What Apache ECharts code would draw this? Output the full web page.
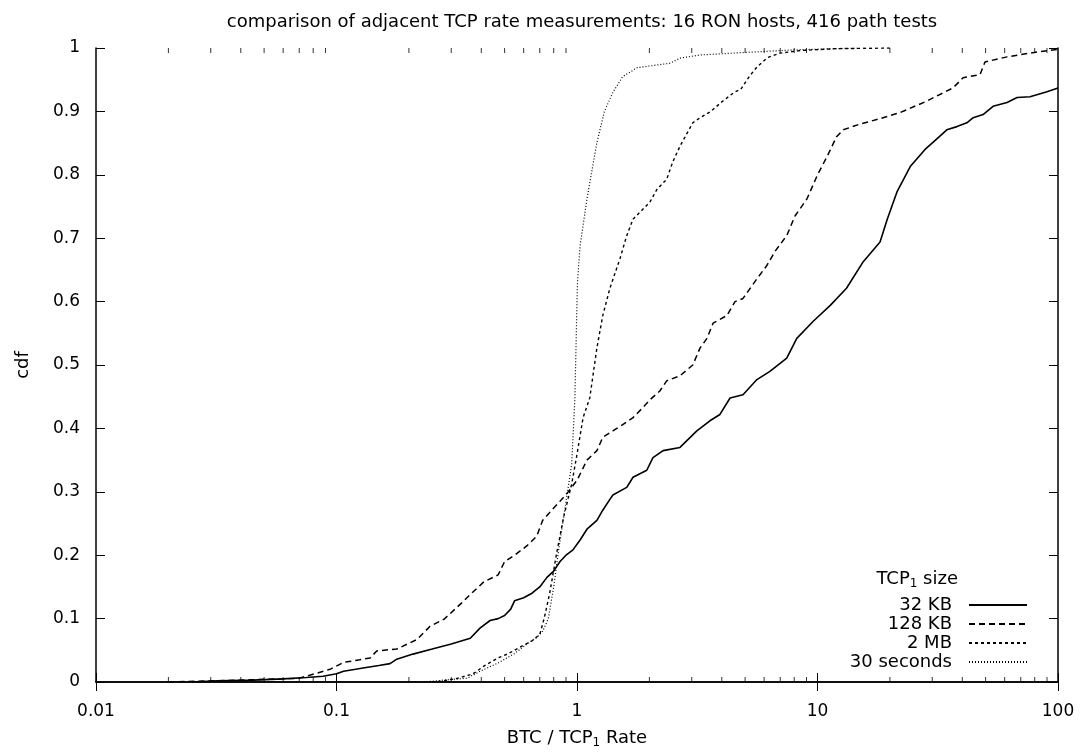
<!DOCTYPE html>
<html><head><meta charset="utf-8">
<script src="https://cdn.jsdelivr.net/npm/echarts@6/dist/echarts.min.js"></script>
<style>html,body{margin:0;padding:0;background:#fff}#c{width:1081px;height:754px}</style>
</head><body><div id="c"></div>
<script>
const titleText = 'comparison of adjacent TCP rate measurements: 16 RON hosts, 416 path tests';
const seriesNames = ['32 KB', '128 KB', '2 MB', '30 seconds'];
const xTickLabels = ['0.01', '0.1', '1', '10', '100'];
const minorTickValues = [0.02,0.03,0.04,0.05,0.06,0.07,0.08,0.09,
  0.2,0.3,0.4,0.5,0.6,0.7,0.8,0.9,
  2,3,4,5,6,7,8,9,
  20,30,40,50,60,70,80,90];

const kb32 = [[0.025,0],[0.032,0.002],[0.045,0.003],[0.06,0.005],[0.075,0.007],[0.088,0.009],[0.1,0.013],[0.107,0.017],[0.12,0.02],[0.129,0.022],[0.15,0.026],[0.167,0.029],[0.178,0.036],[0.208,0.044],[0.25,0.052],[0.3,0.06],[0.36,0.069],[0.395,0.085],[0.435,0.097],[0.47,0.1],[0.5,0.105],[0.53,0.115],[0.55,0.128],[0.6,0.133],[0.65,0.14],[0.7,0.15],[0.75,0.165],[0.8,0.175],[0.85,0.19],[0.9,0.2],[0.96,0.208],[1.03,0.224],[1.1,0.241],[1.21,0.255],[1.28,0.271],[1.37,0.288],[1.41,0.295],[1.61,0.307],[1.71,0.323],[1.95,0.334],[2.07,0.354],[2.28,0.365],[2.68,0.37],[3.15,0.396],[3.57,0.412],[3.93,0.422],[4.33,0.448],[4.9,0.453],[5.6,0.477],[6.34,0.49],[7.45,0.511],[8.2,0.542],[9.6,0.569],[11.3,0.594],[13.2,0.621],[15.5,0.663],[18.2,0.694],[19.5,0.73],[21.4,0.773],[24.3,0.813],[28,0.84],[30.2,0.851],[34.5,0.871],[38,0.876],[41.8,0.882],[44.4,0.89],[48.8,0.895],[53.7,0.908],[61.4,0.914],[67.6,0.922],[76.5,0.923],[90,0.931],[100,0.937]];

const kb128 = [[0.02,0],[0.032,0.002],[0.06,0.005],[0.07,0.006],[0.083,0.014],[0.094,0.02],[0.107,0.031],[0.125,0.035],[0.138,0.038],[0.147,0.049],[0.178,0.052],[0.216,0.067],[0.245,0.088],[0.28,0.099],[0.33,0.124],[0.36,0.138],[0.41,0.158],[0.47,0.169],[0.5,0.19],[0.55,0.2],[0.62,0.215],[0.68,0.23],[0.72,0.255],[0.78,0.27],[0.85,0.285],[0.92,0.3],[1.0,0.318],[1.1,0.35],[1.21,0.365],[1.28,0.386],[1.41,0.396],[1.55,0.406],[1.71,0.417],[1.88,0.433],[2.01,0.445],[2.21,0.459],[2.36,0.475],[2.68,0.483],[3.03,0.5],[3.25,0.527],[3.47,0.542],[3.68,0.566],[4.2,0.578],[4.54,0.6],[4.9,0.605],[5.6,0.636],[6.16,0.657],[6.65,0.679],[7.45,0.704],[8.06,0.735],[9.04,0.762],[10,0.8],[11,0.83],[12,0.86],[12.8,0.871],[15,0.88],[18,0.888],[22,0.898],[28,0.915],[36.6,0.937],[40.3,0.953],[47.4,0.958],[49.7,0.978],[61.4,0.986],[76.5,0.992],[95,0.997],[100,0.998]];

const mb2 = [[0.25,0],[0.27,0.001],[0.32,0.006],[0.37,0.013],[0.41,0.025],[0.47,0.038],[0.52,0.045],[0.58,0.055],[0.65,0.065],[0.7,0.075],[0.73,0.1],[0.77,0.14],[0.82,0.2],[0.88,0.26],[0.95,0.312],[1.0,0.359],[1.06,0.417],[1.13,0.448],[1.21,0.527],[1.28,0.578],[1.37,0.621],[1.51,0.668],[1.61,0.704],[1.71,0.73],[2.01,0.757],[2.15,0.777],[2.36,0.793],[2.5,0.82],[2.68,0.845],[3.03,0.882],[3.25,0.89],[3.6,0.9],[4.0,0.915],[4.5,0.93],[4.8,0.935],[5.2,0.955],[5.6,0.97],[6.2,0.985],[7,0.992],[8.5,0.996],[12,0.999],[20,1.0]];

const sec30 = [[0.2,0],[0.23,0.0],[0.28,0.003],[0.35,0.006],[0.395,0.017],[0.47,0.03],[0.55,0.045],[0.62,0.06],[0.68,0.07],[0.72,0.08],[0.76,0.1],[0.8,0.15],[0.84,0.21],[0.88,0.26],[0.91,0.296],[0.95,0.343],[0.98,0.448],[1.0,0.6],[1.005,0.632],[1.03,0.688],[1.1,0.762],[1.21,0.851],[1.3,0.9],[1.41,0.93],[1.55,0.955],[1.78,0.969],[2.44,0.976],[2.68,0.984],[3.25,0.989],[5,0.993],[8,0.997],[15,1.0]];

const FONT = 'DejaVu Sans';
const subRich = { sub: { fontSize: 12, fontFamily: FONT, color: '#000', verticalAlign: 'bottom', padding: [9, 0, 0, 0] } };

const chart = echarts.init(document.getElementById('c'), null, { renderer: 'canvas' });

const axisLineStyle = { show: true, lineStyle: { color: '#000', width: 1.5 } };
function logAxis(pos, showLabels) {
  return {
    type: 'log', logBase: 10, min: 0.01, max: 100, position: pos,
    axisLine: axisLineStyle,
    axisTick: { show: true, inside: true, length: 9, lineStyle: { color: '#000', width: 1 } },
    axisLabel: { show: showLabels, margin: 21, color: '#000', fontFamily: FONT, fontSize: 17,
      formatter: function (v) { const i = Math.round(Math.log10(v)) + 2; return xTickLabels[i] !== undefined ? xTickLabels[i] : ''; } },
    splitLine: { show: false }, minorTick: { show: false }
  };
}
function valAxis(pos, showLabels) {
  return {
    type: 'value', min: 0, max: 1, interval: 0.1, position: pos,
    axisLine: axisLineStyle,
    axisTick: { show: true, inside: true, length: 9, lineStyle: { color: '#000', width: 1 } },
    axisLabel: { show: showLabels, margin: 16, color: '#000', fontFamily: FONT, fontSize: 17,
      formatter: function (v) { return String(Math.round(v * 10) / 10); } },
    splitLine: { show: false }
  };
}

const xA = logAxis('bottom', true);
xA.name = 'BTC / TCP{sub|1} Rate';
xA.nameLocation = 'middle';
xA.nameGap = 46;
xA.nameTextStyle = { color: '#000', fontFamily: FONT, fontSize: 18, rich: subRich };
const yA = valAxis('left', true);
yA.name = 'cdf';
yA.nameLocation = 'middle';
yA.nameGap = 64;
yA.nameTextStyle = { color: '#000', fontFamily: FONT, fontSize: 18 };

const lineDefs = [
  { name: seriesNames[0], data: kb32, type: 'solid', width: 1.6 },
  { name: seriesNames[1], data: kb128, type: [6, 4], width: 1.5 },
  { name: seriesNames[2], data: mb2, type: [3, 3], width: 1.4 },
  { name: seriesNames[3], data: sec30, type: [1, 2], width: 1.2 }
];

const series = lineDefs.map(d => ({
  name: d.name, type: 'line', xAxisIndex: 0, yAxisIndex: 0,
  data: d.data, showSymbol: false, symbol: 'none', smooth: false,
  lineStyle: { color: '#000', width: d.width, type: d.type },
  itemStyle: { color: '#000' }, animation: false, z: 3
}));

series.push({
  name: 'minorBottom', type: 'scatter', xAxisIndex: 0, yAxisIndex: 0, clip: false,
  data: minorTickValues.map(v => [v, 0]), symbol: 'rect', symbolSize: [1, 5], symbolOffset: [0, -2.5],
  itemStyle: { color: '#000' }, silent: true, animation: false, z: 4
});
series.push({
  name: 'minorTop', type: 'scatter', xAxisIndex: 0, yAxisIndex: 0, clip: false,
  data: minorTickValues.map(v => [v, 1]), symbol: 'rect', symbolSize: [1, 5], symbolOffset: [0, 2.5],
  itemStyle: { color: '#000' }, silent: true, animation: false, z: 4
});

chart.setOption({
  backgroundColor: '#fff',
  animation: false,
  title: { text: titleText, left: 577, textAlign: 'center', top: 8,
    textStyle: { color: '#000', fontFamily: FONT, fontSize: 18, fontWeight: 'normal' } },
  grid: { left: 96, right: 23, top: 48, bottom: 68, containLabel: false },
  xAxis: [xA, logAxis('top', false)],
  yAxis: [yA, valAxis('right', false)],
  legend: {
    data: seriesNames, orient: 'vertical', right: 48, top: 591, align: 'right',
    itemWidth: 58, itemHeight: 12, itemGap: 1,
    itemStyle: { opacity: 0, borderWidth: 0 },
    textStyle: { color: '#000', fontFamily: FONT, fontSize: 18, padding: [0, 12, 0, 0] },
    selectedMode: false
  },
  graphic: [{
    type: 'text', right: 123, top: 570,
    style: { text: 'TCP{sub|1} size', fill: '#000', font: '18px "DejaVu Sans"', rich: subRich, align: 'right' }
  }],
  series: series
});
</script></body></html>
